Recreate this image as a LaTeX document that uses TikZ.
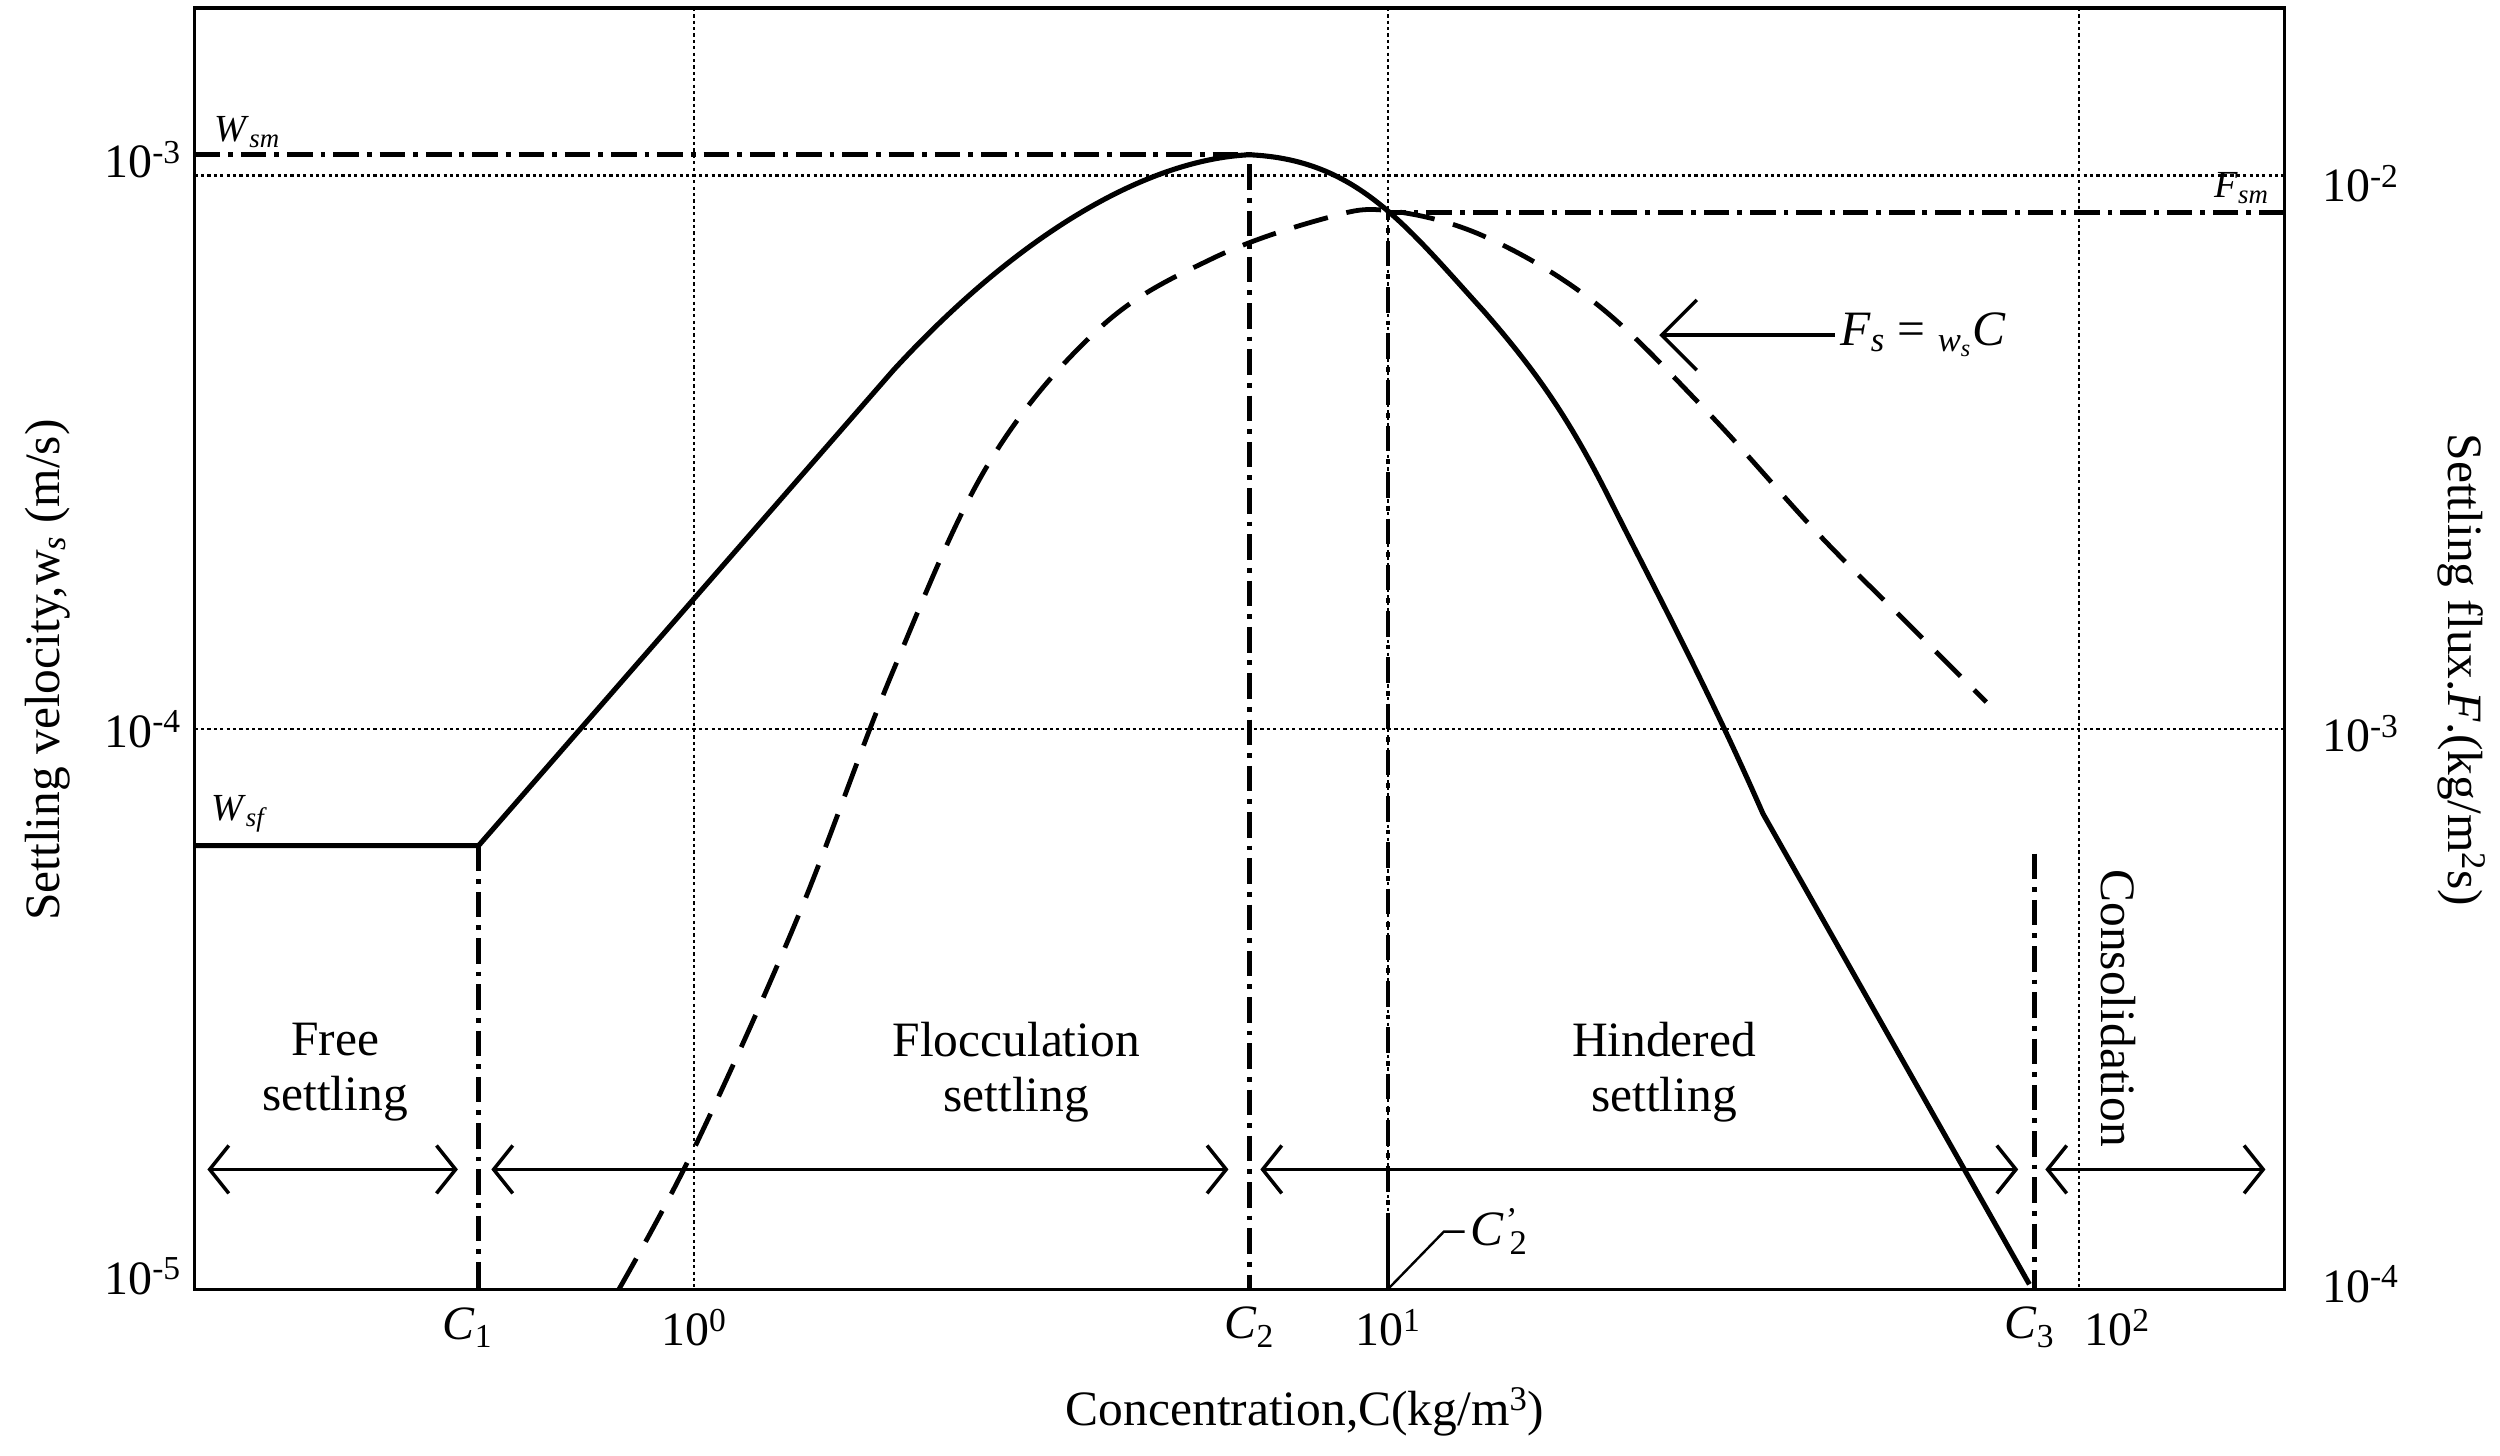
\documentclass[tikz,border=0pt]{standalone}
\usepackage{fontspec}
\setmainfont{Liberation Serif}
\usetikzlibrary{arrows.meta}
\newcommand{\ten}[1]{10\textsuperscript{#1}}
\newcommand{\itx}[1]{\textit{#1}}
\begin{document}
\begin{tikzpicture}[x=1pt,y=-1pt,
  big/.style={font=\fontsize{31}{35}\selectfont},
  tick/.style={font=\fontsize{30}{33}\selectfont},
  small/.style={font=\fontsize{24}{26}\selectfont},
  dd/.style={line width=3pt,dash pattern=on 16pt off 5pt on 3pt off 5pt},
  dots/.style={line width=1.6pt,dash pattern=on 2pt off 2pt},
  span/.style={line width=2.2pt,{Straight Barb[length=12pt,width=30pt]}-{Straight Barb[length=12pt,width=30pt]}}]
\useasboundingbox (0,0) rectangle (1567,912);
\draw[dots] (122,110) -- (1432,110);
\draw[dots] (122,457) -- (1432,457);
\foreach \x in {435,870,1303} \draw[dots] (\x,5) -- (\x,808);
\draw[line width=2pt] (122,5) rectangle (1432,808);
\draw[dd] (122,97) -- (783,97) -- (783,808);
\draw[dd] (1432,133) -- (870,133) -- (870,760);
\draw[line width=3pt] (870,760) -- (870,808);
\draw[dd] (300,530) -- (300,808);
\draw[dd] (1275,535) -- (1275,808);
\draw[line width=3.2pt,line join=round] (122,530) -- (300,530) -- (560,232)
  .. controls (640,145) and (720,100) .. (783,97)
  .. controls (850,100) and (880,140) .. (930,195)
  .. controls (965,235) and (985,265) .. (1010,315)
  .. controls (1035,365) and (1070,430) .. (1105,510) -- (1272,805);
\draw[line width=3pt,dash pattern=on 22pt off 12pt] plot[smooth,tension=0.6] coordinates
  {(388,808) (435,720) (500,575) (560,420) (620,290) (690,205) (760,162) (830,137) (870,132) (930,148) (1000,190) (1070,258) (1140,335) (1200,395) (1245,440)};
\node[big,anchor=west] (fs) at (1150,210) {\itx{F}\textsubscript{\itx{s}} = \textsubscript{\itx{w}\textsubscript{\itx{s}}}\itx{C}};
\draw[line width=2.2pt,-{Straight Barb[length=22pt,width=44pt]}] (fs.west) -- (1040,210);
\node[small] at (155,83) {\itx{W}\textsubscript{\itx{sm}}};
\node[small] at (1405,118) {\itx{F}\textsubscript{\itx{sm}}};
\node[small] at (150,510) {\itx{W}\textsubscript{\itx{sf}}};
\node[big,anchor=west] (c2p) at (918,772) {\itx{C}\textsuperscript{\itx{’}}\kern-4pt\textsubscript{2}};
\draw[line width=1.5pt] (870,808) -- (905,772) -- (c2p.west);
\node[big,align=center] at (210,672) {Free\\settling};
\node[big,align=center] at (637,672) {Flocculation\\settling};
\node[big,align=center] at (1043,672) {Hindered\\settling};
\node[big,rotate=-90] at (1328,632) {Consolidation};
\draw[span] (130,733) -- (287,733);
\draw[span] (308,733) -- (770,733);
\draw[span] (790,733) -- (1265,733);
\draw[span] (1282,733) -- (1420,733);
\node[tick,anchor=east] at (117,100) {\ten{-3}};
\node[tick,anchor=east] at (117,457) {\ten{-4}};
\node[tick,anchor=east] at (117,800) {\ten{-5}};
\node[tick,anchor=west] at (1452,115) {\ten{-2}};
\node[tick,anchor=west] at (1452,460) {\ten{-3}};
\node[tick,anchor=west] at (1452,805) {\ten{-4}};
\node[tick] at (293,832) {\itx{C}\textsubscript{1}};
\node[tick] at (435,832) {\ten{0}};
\node[tick] at (783,832) {\itx{C}\textsubscript{2}};
\node[tick] at (870,832) {\ten{1}};
\node[tick] at (1272,832) {\itx{C}\textsubscript{3}};
\node[tick] at (1327,832) {\ten{2}};
\node[big] at (818,885) {Concentration,C(kg/m\textsuperscript{3})};
\node[big,rotate=90] at (30,420) {Settling velocity,w\textsubscript{\itx{s}} (m/s)};
\node[big,rotate=-90] at (1543,420) {Settling flux.\itx{F}.(kg/m\textsuperscript{2}s)};
\end{tikzpicture}
\end{document}
